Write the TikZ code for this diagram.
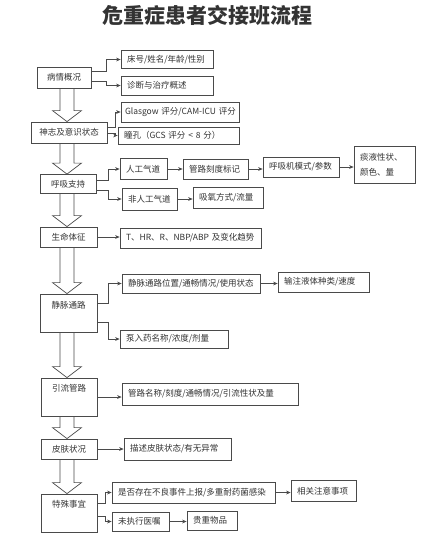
\documentclass[tikz,border=0pt]{standalone}
\usepackage{fontspec}
\setmainfont{Noto Sans CJK SC}
\newfontfamily\titlefont{Noto Sans CJK SC}
\usepackage{tikz}
\usetikzlibrary{positioning,arrows.meta,calc}
\definecolor{ink}{HTML}{4A4A4A}
\definecolor{txt}{HTML}{333333}
\tikzset{
  mainbox/.style={draw=ink,line width=0.8pt,fill=white,inner sep=1pt,align=center,text=txt,font=\fontsize{8.5}{10}\selectfont},
  subbox/.style={draw=ink,line width=0.8pt,fill=white,inner xsep=6pt,inner ysep=1pt,align=left,text=txt,font=\fontsize{8.5}{10}\selectfont},
  plain/.style={inner sep=0pt,align=center,text=txt,font=\fontsize{8.5}{10}\selectfont},
  flow/.style={-{Stealth[length=4.5pt,width=3.8pt]},draw=ink,line width=0.6pt},
  hollow/.style={draw=ink,line width=0.7pt,line join=miter}}
% hollow block arrow between two main boxes
\newcommand{\blockarrow}[2]{%
  \draw[hollow] let \p1=(#1.south -| spine), \p2=(#2.north -| spine) in
    (\x1-7pt,\y1) -- (\x1-7pt,\y2+11pt) -- (\x1-14.5pt,\y2+11pt) -- (\x2,\y2)
    -- (\x1+14.5pt,\y2+11pt) -- (\x1+7pt,\y2+11pt) -- (\x1+7pt,\y1);}

\begin{document}
\begin{tikzpicture}[x=1pt,y=-1pt]
\useasboundingbox[fill=white] (0,0) rectangle (447,546);
\coordinate (spine) at (67,0);

\node[text=txt,font=\titlefont\bfseries\fontsize{21}{21}\selectfont] (title) at (207.5,15) {危重症患者交接班流程};

% main column
\node[mainbox,minimum width=54pt,minimum height=21pt] (bqgk) at (64,77.5) {病情概况};
\node[mainbox,minimum width=76pt,minimum height=21pt] (szys) at (69,132.5) {神志及意识状态};
\node[mainbox,minimum width=56pt,minimum height=19pt] (hxzc) at (68,184) {呼吸支持};
\node[mainbox,minimum width=57pt,minimum height=20pt] (smtz) at (68.5,237) {生命体征};
\node[mainbox,minimum width=57pt,minimum height=38pt] (jmtl) at (68.5,313) {};
\node[plain] (jmtl-t) at ([yshift=-12pt]jmtl.north) {静脉通路};
\node[mainbox,minimum width=56pt,minimum height=38pt] (yggl) at (69,397) {};
\node[plain] (yggl-t) at ([yshift=-11pt]yggl.north) {引流管路};
\node[mainbox,minimum width=56pt,minimum height=20pt] (pfzk) at (69,449) {皮肤状况};
\node[mainbox,minimum width=56pt,minimum height=38pt] (tssy) at (69,513) {};
\node[plain] (tssy-t) at ([yshift=-11pt]tssy.north) {特殊事宜};

\blockarrow{bqgk}{szys}
\blockarrow{szys}{hxzc}
\blockarrow{hxzc}{smtz}
\blockarrow{smtz}{jmtl}
\blockarrow{jmtl}{yggl}
\blockarrow{yggl}{pfzk}
\blockarrow{pfzk}{tssy}

% detail boxes (text width = box width - 12pt)
\node[subbox,text width=80pt,minimum height=18pt] (chxm) at (167,59.5) {床号/姓名/年龄/性别};
\node[subbox,text width=80pt,minimum height=19pt] (zdzl) at (167,85.5) {诊断与治疗概述};
\node[subbox,inner xsep=4pt,text width=110pt,minimum height=20pt] (gcs) at (180,112) {\mbox{Glasgow 评分/CAM-ICU 评分}};
\node[subbox,text width=109pt,minimum height=17pt] (tk) at (178.5,135.5) {瞳孔（GCS 评分 < 8 分）};
\node[subbox,text width=35pt,minimum height=21pt] (rgqd) at (143.5,169) {人工气道};
\node[subbox,text width=53pt,minimum height=20pt] (glkd) at (215.5,169) {管路刻度标记};
\node[subbox,text width=64pt,minimum height=20pt] (hxj) at (301,167) {呼吸机模式/参数};
\node[subbox,text width=49pt,minimum height=37pt,font=\fontsize{8.5}{15}\selectfont] (tyxz) at (384.5,164.5) {痰液性状、\\颜色、量};
\node[subbox,text width=43pt,minimum height=22pt] (frgqd) at (149.5,199) {非人工气道};
\node[subbox,text width=58pt,minimum height=21pt] (xyfs) at (228,198) {吸氧方式/流量};
\node[subbox,text width=129pt,minimum height=20pt] (tzsx) at (190.5,238) {T、HR、R、NBP/ABP 及变化趋势};
\node[subbox,text width=126pt,minimum height=19pt] (jmwz) at (191,283.5) {静脉通路位置/通畅情况/使用状态};
\node[subbox,text width=79pt,minimum height=20pt] (szyt) at (323.5,282) {输注液体种类/速度};
\node[subbox,text width=96pt,minimum height=18pt] (brym) at (174,339) {泵入药名称/浓度/剂量};
\node[subbox,text width=164pt,minimum height=22pt] (glmc) at (210,394) {管路名称/刻度/通畅情况/引流性状及量};
\node[subbox,text width=95pt,minimum height=22pt] (mspf) at (177.5,449) {描述皮肤状态/有无异常};
\node[subbox,text width=151pt,minimum height=21pt] (blsj) at (193.5,492.5) {是否存在不良事件上报/多重耐药菌感染};
\node[subbox,text width=53pt,minimum height=21pt] (xgzy) at (323.5,491) {相关注意事项};
\node[subbox,text width=45pt,minimum height=19pt] (wzxy) at (140.5,521.5) {未执行医嘱};
\node[subbox,text width=38pt,minimum height=19pt] (grwp) at (212,520.5) {贵重物品};

% connectors
\draw[flow] ([yshift=6pt]bqgk.east) -- ++(15,0) |- (chxm.west);
\draw[flow] ([yshift=-4pt]bqgk.east) -- ++(15,0) |- (zdzl.west);
\draw[flow] ([yshift=5pt]szys.east) -- ++(8,0) |- (gcs.west);
\draw[flow] ([yshift=-1pt]szys.east) -- ++(8,0) |- (tk.west);
\draw[flow] ([yshift=4pt]hxzc.east) -- ++(12,0) |- (rgqd.west);
\draw[flow] ([yshift=-6pt]hxzc.east) -- ++(12,0) |- (frgqd.west);
\draw[flow] (rgqd.east) -- (rgqd.east -| glkd.west);
\draw[flow] (glkd.east) -- (glkd.east -| hxj.west);
\draw[flow] (hxj.east) -- (hxj.east -| tyxz.west);
\draw[flow] (frgqd.east) -- (frgqd.east -| xyfs.west);
\draw[flow] (smtz.east) -- (smtz.east -| tzsx.west);
\draw[flow] ([yshift=10pt]jmtl.east) -- ++(11,0) |- (jmwz.west);
\draw[flow] ([yshift=-9pt]jmtl.east) -- ++(11,0) |- (brym.west);
\draw[flow] (jmwz.east) -- (jmwz.east -| szyt.west);
\draw[flow] (yggl.east) -- (yggl.east -| glmc.west);
\draw[flow] (pfzk.east) -- (pfzk.east -| mspf.west);
\draw[flow] ([yshift=10pt]tssy.east) -- ++(8,0) |- (blsj.west);
\draw[flow] ([yshift=-3pt]tssy.east) -- ++(8,0) |- (wzxy.west);
\draw[flow] (blsj.east) -- (blsj.east -| xgzy.west);
\draw[flow] (wzxy.east) -- (wzxy.east -| grwp.west);
\end{tikzpicture}
\end{document}
